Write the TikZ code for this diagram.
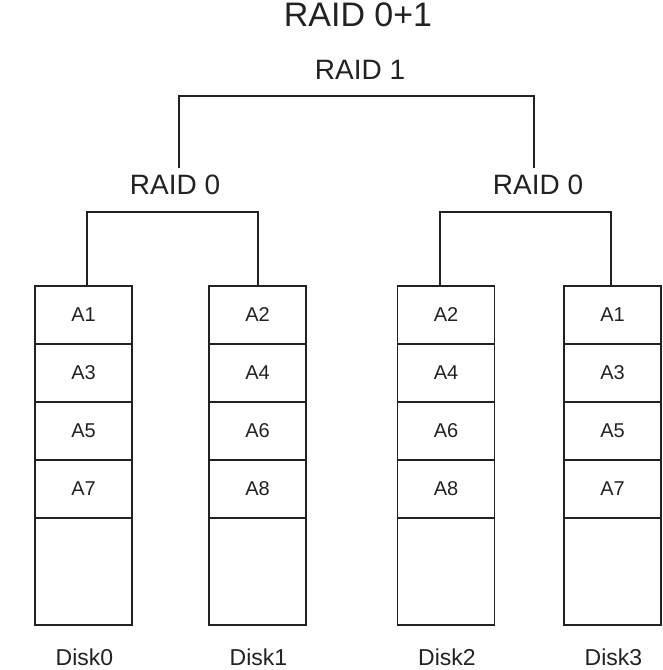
\documentclass[tikz,border=0pt]{standalone}
\usepackage{fontspec}
\setmainfont{Liberation Sans}
\usepackage{xcolor}
\usetikzlibrary{positioning,calc}

\definecolor{inkgray}{HTML}{222222}

\begin{document}
\begin{tikzpicture}[
  x=1pt,y=-1pt,
  cell/.style={rectangle,draw=inkgray,line width=1.4pt,outer sep=0pt,inner sep=0pt,
               minimum width=97pt,minimum height=58pt,
               font=\fontsize{20}{24}\selectfont,text=inkgray},
  spare/.style={cell,minimum height=107pt},
  lbl/.style={inner sep=0pt,font=\fontsize{28}{32}\selectfont,text=inkgray},
  disklbl/.style={inner sep=0pt,font=\fontsize{23}{27}\selectfont,text=inkgray},
  link/.style={draw=inkgray,line width=2.7pt}
]
\useasboundingbox (0,0) rectangle (662,670);

\node[lbl,font=\fontsize{34}{38}\selectfont] (title) at (358,15) {RAID 0+1};
\node[lbl] (raid1)  at (360,70)  {RAID 1};
\node[lbl] (raid0L) at (175,185) {RAID 0};
\node[lbl] (raid0R) at (538,185) {RAID 0};

% disks with their blocks
\foreach \x/\n/\a/\b/\c/\d in {83.5/0/A1/A3/A5/A7, 257.5/1/A2/A4/A6/A8,
                               446/2/A2/A4/A6/A8, 612.5/3/A1/A3/A5/A7} {
  \node[cell] (d\n-1) at (\x,315) {\a};
  \node[cell,below=0pt of d\n-1] (d\n-2) {\b};
  \node[cell,below=0pt of d\n-2] (d\n-3) {\c};
  \node[cell,below=0pt of d\n-3] (d\n-4) {\d};
  \node[spare,below=0pt of d\n-4] (d\n-5) {};
  \node[disklbl] (disk\n) at (\x+1,657) {Disk\n};
}

% striping brackets
\draw[link] ([xshift=3.5pt]d0-1.north) -- ++(0,-74) -| ([xshift=0.5pt]d1-1.north);
\draw[link] ([xshift=-6pt]d2-1.north) -- ++(0,-74) -| ([xshift=-1.5pt]d3-1.north);

% mirror bracket
\draw[link] ([xshift=4pt,yshift=7pt]raid0L.north) -- ++(0,-72)
            -| ([xshift=-4pt,yshift=7pt]raid0R.north);
\end{tikzpicture}
\end{document}
